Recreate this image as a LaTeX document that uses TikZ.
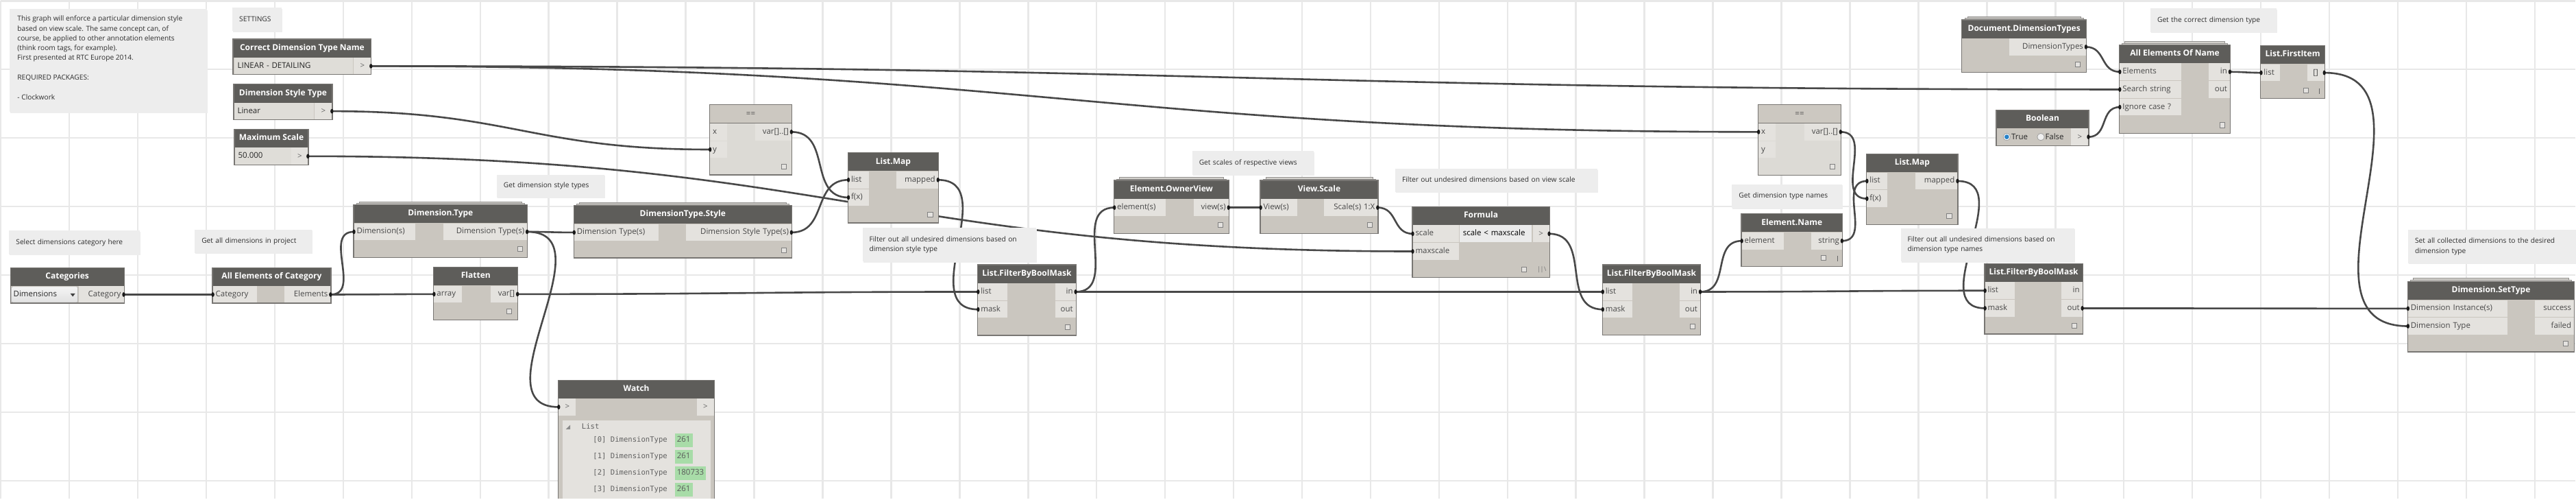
\documentclass[tikz,border=0pt]{standalone}
\usepackage{fontspec}
\setmainfont{Open Sans}
\newfontfamily\monof{DejaVu Sans Mono}
\usetikzlibrary{calc}
\pgfdeclarelayer{gridlay}
\pgfdeclarelayer{wirelay}
\pgfdeclarelayer{notelay}
\pgfdeclarelayer{dotlay}
\pgfsetlayers{gridlay,wirelay,notelay,main,dotlay}
\definecolor{gridc}{RGB}{232,232,232}
\definecolor{hdrc}{RGB}{94,93,90}
\definecolor{bodyc}{RGB}{202,198,191}
\definecolor{pinc}{RGB}{228,226,222}
\definecolor{bordc}{RGB}{120,118,115}
\definecolor{eqhdrc}{RGB}{204,200,193}
\definecolor{eqbodyc}{RGB}{220,218,213}
\definecolor{notec}{RGB}{237,237,237}
\definecolor{notetc}{RGB}{45,45,45}
\definecolor{wirec}{RGB}{72,72,72}
\definecolor{ptxt}{RGB}{72,72,72}
\definecolor{greenc}{RGB}{168,220,168}
\definecolor{fieldc}{RGB}{223,221,216}
\definecolor{stackc}{RGB}{212,210,205}
\definecolor{radioc}{RGB}{40,130,200}
\newcommand\hfont{\fontsize{12}{14}\selectfont\bfseries}
\newcommand\pfont{\fontsize{11.5}{14}\selectfont}
\newcommand\nfont{\fontsize{10.2}{14.3}\selectfont}
\newcommand\wfont{\monof\fontsize{10.6}{14}\selectfont}
\newcommand\DynNode[6]{%
  \node[dbody, minimum width={#3-#2}, minimum height={#5-#4}, anchor=north west] (#1) at (#2,#4) {};
  \node[dhdr, minimum width={#3-#2}, anchor=north west] (#1-t) at (#2,#4) {#6};}
\newcommand\EqNode[5]{%
  \node[dbody, fill=eqbodyc, minimum width={#3-#2}, minimum height={#5-#4}, anchor=north west] (#1) at (#2,#4) {};
  \node[dhdr, fill=eqhdrc, text=ptxt, font=\pfont, minimum width={#3-#2}, anchor=north west] (#1-t) at (#2,#4) {==};
  \draw[bordc, line width=1pt] (#1-t.south west) -- (#1-t.south east);}
\newcommand\PIn[5]{\node[pin, anchor=west, text width=#4pt, align=left] (#1) at (#2,#3) {#5};}
\newcommand\POut[5]{\node[pin, anchor=east, text width=#4pt, align=right] (#1) at (#2,#3) {#5};}
\newcommand\Stack[3]{%
  \filldraw[stk] ({#1+8},{#3-4.5}) rectangle ({#2-8},{#3});
  \filldraw[stk] ({#1+4},{#3-2.2}) rectangle ({#2-4},{#3});}
\newcommand\Sq[2]{\filldraw[sqs] ({#1-3.6},{#2-3.6}) rectangle ({#1+3.6},{#2+3.6});}
\newcommand\Lace[2]{\draw[black!60, line width=1pt] (#1,{#2-4}) -- (#1,{#2+4});}
\newcommand\Wire[2]{\draw[wire] let \p1=(#1), \p2=(#2), \n1={47*veclen((\x2-\x1)/100,(\y2-\y1)/100)} in (\p1) .. controls +(\n1,0) and +(-\n1,0) .. (\p2);}
\begin{document}
\begin{tikzpicture}[x=1pt,y=-1pt,
  gridl/.style={draw=gridc, line width=2.5pt},
  dbody/.style={fill=bodyc, inner sep=0pt, outer sep=0pt},
  dhdr/.style={fill=hdrc, text=white, font=\hfont, minimum height=26.7pt, inner sep=0pt, outer sep=0pt, text height=9pt, text depth=3pt},
  dborder/.style={draw=bordc, line width=1.2pt},
  pin/.style={fill=pinc, text=ptxt, font=\pfont, inner xsep=4pt, inner ysep=0pt, minimum height=24.7pt, outer sep=0pt, text height=8.6pt, text depth=2.6pt},
  pbtn/.style={fill=pinc, text=black!60, font=\pfont, inner sep=0pt, minimum width=25pt, minimum height=24.7pt, outer sep=0pt},
  field/.style={fill=fieldc, text=black!85, font=\pfont, inner xsep=5pt, inner ysep=0pt, minimum height=24.7pt, outer sep=0pt, anchor=west, align=left, text height=8.6pt, text depth=2.6pt},
  note/.style={fill=notec, text=notetc, font=\nfont, inner xsep=10pt, inner ysep=0pt, anchor=north west, align=left, text height=7.6pt, text depth=2.2pt, preaction={fill=black!7, transform canvas={shift={(1pt,-1.5pt)}}}},
  stk/.style={fill=stackc, draw=bordc!80, line width=0.7pt},
  sqs/.style={fill=bodyc!50!white, draw=black!50, line width=0.8pt},
  wire/.style={draw=wirec, line width=2.6pt},
  dotc/.style={fill=black!90},
  wtxt/.style={font=\wfont, text=black!62, inner sep=0pt, anchor=west},
  wval/.style={fill=greenc, font=\pfont, text=black!65, inner xsep=3pt, inner ysep=0pt, minimum height=20pt, anchor=west, text height=8.6pt, text depth=2.6pt}]
\begin{pgfonlayer}{gridlay}
\fill[white] (0,0) rectangle (3759,726);
\foreach \x in {0,100,...,3700} \draw[gridl] (\x,0) -- (\x,726);
\foreach \y in {0,100,...,700} \draw[gridl] (0,\y) -- (3759,\y);
\end{pgfonlayer}
\useasboundingbox (0,0) rectangle (3759,726);
\clip (0,0) rectangle (3759,726);

% ---------------- notes ----------------
\begin{pgfonlayer}{notelay}
\node[note, text width=268pt, minimum height=150pt, anchor=north west, text height=, text depth=] (n-intro) at (12.6,11.7) {};
\node[font=\nfont, text=notetc, align=left, anchor=north west, inner sep=0pt] (n-introtxt) at (24,21.5) {This graph will enforce a particular dimension style\\based on view scale. The same concept can, of\\course, be applied to other annotation elements\\(think room tags, for example).\\First presented at RTC Europe 2014.\\\mbox{}\\REQUIRED PACKAGES:\\\mbox{}\\- Clockwork};
\node[note, text width=52pt, minimum height=34pt] (n-set) at (338,10) {SETTINGS};
\node[note, text width=171pt, minimum height=34.3pt] (n-cat) at (12,335) {Select dimensions category here};
\node[note, text width=151pt, minimum height=34pt] (n-all) at (283,333.3) {Get all dimensions in project};
\node[note, text width=137pt, minimum height=33.4pt] (n-sty) at (724,253.3) {Get dimension style types};
\node[note, text width=234pt, minimum height=49pt, text height=, text depth=] (n-f1) at (1258,331) {Filter out all undesired dimensions based on\\dimension style type};
\node[note, text width=157pt, minimum height=34.3pt] (n-scl) at (1739.5,219) {Get scales of respective views};
\node[note, text width=275pt, minimum height=33.3pt] (n-f2) at (2036,245) {Filter out undesired dimensions based on view scale};
\node[note, text width=141pt, minimum height=34.7pt] (n-nm) at (2527.6,267.3) {Get dimension type names};
\node[note, text width=234pt, minimum height=48.7pt, text height=, text depth=] (n-f3) at (2774,331.3) {Filter out all undesired dimensions based on\\dimension type names};
\node[note, text width=164pt, minimum height=34.3pt] (n-cor) at (3138.7,11) {Get the correct dimension type};
\node[note, text width=230pt, minimum height=49.4pt, text height=, text depth=] (n-set2) at (3515,333.3) {Set all collected dimensions to the desired\\dimension type};
\end{pgfonlayer}

% ---------------- nodes ----------------
\DynNode{cdtn}{339}{541}{55.7}{107.3}{Correct Dimension Type Name}
\node[field, text width=163pt] (cdtn-f) at (340.6,95.2) {LINEAR - DETAILING};
\node[pbtn, anchor=east] (cdtn-o) at (540.4,95.2) {>};
\DynNode{dst}{340}{484}{121.7}{173.3}{Dimension Style Type}
\node[field, text width=106pt] (dst-f) at (340.6,161) {Linear};
\node[pbtn, anchor=east] (dst-o) at (483.4,161) {>};
\DynNode{ms}{341}{449}{187.3}{239.3}{Maximum Scale}
\node[field, text width=73pt] (ms-f) at (341.6,226.7) {50.000};
\node[pbtn, anchor=east, minimum width=24pt] (ms-o) at (448.4,226.7) {>};

\DynNode{cat}{14}{180}{389.3}{441}{Categories}
\node[draw=black!35, top color=white!96!black, bottom color=black!12, rounded corners=2pt, font=\pfont, text=black!85, inner xsep=3pt, inner ysep=0pt, minimum height=23pt, text width=91pt, align=left, anchor=west, text height=8.6pt, text depth=2.6pt] (cat-d) at (15.2,428.5) {Dimensions};
\fill[black!75] (101.5,427) -- (108.5,427) -- (105,431.5) -- cycle;
\POut{cat-o}{179.4}{428.5}{58}{Category}

\DynNode{aeoc}{309}{482}{389.3}{441}{All Elements of Category}
\PIn{aeoc-i}{309.6}{428.5}{56}{Category}
\POut{aeoc-o}{481.4}{428.5}{59}{Elements}

\Stack{515}{769}{297.3}
\DynNode{dt}{515}{769}{297.3}{374.3}{Dimension.Type}
\PIn{dt-i}{515.6}{336.9}{82}{Dimension(s)}
\POut{dt-o}{768.4}{336.9}{114}{Dimension Type(s)}
\Sq{758}{362}

\DynNode{fl}{632}{755}{388.3}{465.3}{Flatten}
\PIn{fl-i}{632.6}{427.9}{33}{array}
\POut{fl-o}{754.4}{427.9}{31}{var[]}
\Sq{742}{453}

\DynNode{wa}{814}{1042}{553.3}{760}{Watch}
\node[pbtn, anchor=west] (wa-i) at (814.6,592.6) {>};
\node[pbtn, anchor=east] (wa-o) at (1041.4,592.6) {>};
\fill[pinc] (820,611.7) rectangle (1036,760);
\fill[black!45] (825,625) -- (831.5,625) -- (831.5,618.5) -- cycle;
\node[wtxt] (wa-l) at (848,621) {List};
\node[wtxt] (wa-0) at (864.5,641) {[0] DimensionType};
\node[wtxt] (wa-1) at (864.5,665) {[1] DimensionType};
\node[wtxt] (wa-2) at (864.5,689) {[2] DimensionType};
\node[wtxt] (wa-3) at (864.5,713) {[3] DimensionType};
\node[wval] (wa-v0) at (984,641) {261};
\node[wval] (wa-v1) at (984,665) {261};
\node[wval] (wa-v2) at (984,689) {180733};
\node[wval] (wa-v3) at (984,713) {261};

\EqNode{eq1}{1035}{1155}{151.7}{254}
\PIn{eq1-x}{1035.6}{191.2}{17}{x}
\PIn{eq1-y}{1035.6}{216.9}{17}{y}
\POut{eq1-o}{1154.4}{191.2}{45}{var[]..[]}
\Sq{1143}{242}

\DynNode{lm1}{1237}{1369}{221.7}{324}{List.Map}
\PIn{lm1-l}{1237.6}{261.2}{22}{list}
\PIn{lm1-f}{1237.6}{286.9}{22}{f(x)}
\POut{lm1-o}{1368.4}{261.2}{53}{mapped}
\Sq{1357}{312}

\Stack{836.5}{1155}{298.3}
\DynNode{dts}{836.5}{1155}{298.3}{375}{DimensionType.Style}
\PIn{dts-i}{837.1}{337.9}{115}{Dimension Type(s)}
\POut{dts-o}{1154.4}{337.9}{146}{Dimension Style Type(s)}
\Sq{1143}{363.7}

\DynNode{f1}{1426.4}{1570}{385}{488}{List.FilterByBoolMask}
\PIn{f1-l}{1427}{424.5}{35}{list}
\PIn{f1-m}{1427}{450.2}{35}{mask}
\POut{f1-in}{1569.4}{424.5}{22}{in}
\POut{f1-out}{1569.4}{450.2}{22}{out}
\Sq{1558}{476}

\Stack{1625.4}{1793.3}{262}
\DynNode{ov}{1625.4}{1793.3}{262}{339.3}{Element.OwnerView}
\PIn{ov-i}{1626}{301.6}{67}{element(s)}
\POut{ov-o}{1792.7}{301.6}{43}{view(s)}
\Sq{1781}{327}

\Stack{1839}{2011}{262}
\DynNode{vs}{1839}{2011}{262}{339.3}{View.Scale}
\PIn{vs-i}{1839.6}{301.6}{45}{View(s)}
\POut{vs-o}{2010.4}{301.6}{70}{Scale(s) 1:X}
\Sq{1999}{327}

\DynNode{fo}{2061}{2261.4}{300.3}{403.3}{Formula}
\PIn{fo-s}{2061.6}{339.8}{60}{scale}
\PIn{fo-m}{2061.6}{365.5}{60}{maxscale}
\node[field, fill=white!92!black, text=black, text width=95pt] (fo-f) at (2130,339.8) {scale < maxscale};
\node[pbtn, anchor=east, minimum width=24pt] (fo-o) at (2260.8,339.8) {>};
\Sq{2224}{391.7}
\node[font=\fontsize{9}{9}\selectfont, text=black!55, inner sep=0pt] (fo-ic) at (2250,391.7) {|\kern-0.5pt|\kern0.5pt\textbackslash};

\DynNode{f2}{2338.5}{2482}{385}{487.3}{List.FilterByBoolMask}
\PIn{f2-l}{2339.1}{424.5}{35}{list}
\PIn{f2-m}{2339.1}{450.2}{35}{mask}
\POut{f2-in}{2481.4}{424.5}{22}{in}
\POut{f2-out}{2481.4}{450.2}{22}{out}
\Sq{2470}{475}

\EqNode{eq2}{2566}{2687}{151.7}{254.3}
\PIn{eq2-x}{2566.6}{191.2}{17}{x}
\PIn{eq2-y}{2566.6}{216.9}{17}{y}
\POut{eq2-o}{2686.4}{191.2}{45}{var[]..[]}
\Sq{2674}{242}

\DynNode{en}{2541.5}{2689}{310.7}{387.3}{Element.Name}
\PIn{en-i}{2542.1}{350.2}{53}{element}
\POut{en-o}{2688.4}{350.2}{37}{string}
\Sq{2661}{375}
\Lace{2682}{376}

\DynNode{lm2}{2724.3}{2857.7}{223.3}{326.7}{List.Map}
\PIn{lm2-l}{2724.9}{262.9}{22}{list}
\PIn{lm2-f}{2724.9}{288.6}{22}{f(x)}
\POut{lm2-o}{2857.1}{262.9}{54}{mapped}
\Sq{2845}{314}

\DynNode{f3}{2896.7}{3040}{383.3}{486}{List.FilterByBoolMask}
\PIn{f3-l}{2897.3}{422.8}{35}{list}
\PIn{f3-m}{2897.3}{448.5}{35}{mask}
\POut{f3-in}{3039.4}{422.8}{23}{in}
\POut{f3-out}{3039.4}{448.5}{23}{out}
\Sq{3028}{474}

\Stack{2863.5}{3045.3}{27.7}
\DynNode{ddt}{2863.5}{3045.3}{27.7}{104.3}{Document.DimensionTypes}
\POut{ddt-o}{3044.7}{67.2}{104}{DimensionTypes}
\Sq{3033}{92.7}

\Stack{3093.5}{3255.4}{64}
\DynNode{aeon}{3093.5}{3255.4}{64}{193}{All Elements Of Name}
\PIn{aeon-e}{3094.1}{103.6}{82}{Elements}
\PIn{aeon-s}{3094.1}{129.3}{82}{Search string}
\PIn{aeon-c}{3094.1}{155}{82}{Ignore case ?}
\POut{aeon-in}{3254.8}{103.6}{23}{in}
\POut{aeon-out}{3254.8}{129.3}{23}{out}
\Sq{3243.5}{181.3}

\DynNode{bool}{2913.7}{3048.8}{159.3}{211}{Boolean}
\filldraw[fill=white, draw=black!40, line width=0.7pt] (2929,198.5) circle (5.2);
\fill[radioc] (2929,198.5) circle (3.4);
\node[font=\pfont, text=black!85, inner sep=0pt, anchor=west] (bool-tr) at (2935.5,198.5) {True};
\filldraw[fill=black!6, draw=black!40, line width=0.7pt] (2978.7,198.5) circle (5.2);
\node[font=\pfont, text=black!85, inner sep=0pt, anchor=west] (bool-fa) at (2985,198.5) {False};
\node[pbtn, anchor=east] (bool-o) at (3048.2,198.5) {>};

\DynNode{fi}{3299.8}{3393.3}{65.3}{142.3}{List.FirstItem}
\PIn{fi-l}{3300.4}{104.9}{19.5}{list}
\node[pbtn, anchor=east, text=ptxt] (fi-o) at (3392.7,104.9) {[]};
\Sq{3366}{130.7}
\Lace{3385.5}{131.5}

\Stack{3514.3}{3758}{409.3}
\DynNode{st}{3514.3}{3758}{409.3}{512}{Dimension.SetType}
\PIn{st-i}{3514.9}{448.9}{137}{Dimension Instance(s)}
\PIn{st-t}{3514.9}{474.6}{137}{Dimension Type}
\POut{st-s}{3757.4}{448.9}{49}{success}
\POut{st-f}{3757.4}{474.6}{49}{failed}
\Sq{3745}{500.3}

\foreach \n in {cdtn,dst,ms,cat,aeoc,dt,fl,wa,eq1,lm1,dts,f1,ov,vs,fo,f2,eq2,en,lm2,f3,ddt,aeon,bool,fi,st}
  \draw[dborder] (\n.north west) rectangle (\n.south east);

% ---------------- wires ----------------
\begin{pgfonlayer}{wirelay}
\Wire{cat-o.east}{aeoc-i.west}
\Wire{aeoc-o.east}{dt-i.west}
\Wire{aeoc-o.east}{fl-i.west}
\Wire{dt-o.east}{dts-i.west}
\Wire{dt-o.east}{wa-i.west}
\Wire{dst-o.east}{eq1-y.west}
\Wire{dts-o.east}{lm1-l.west}
\Wire{eq1-o.east}{lm1-f.west}
\Wire{ms-o.east}{fo-m.west}
\Wire{cdtn-o.east}{eq2-x.west}
\Wire{cdtn-o.east}{aeon-s.west}
\Wire{f1-in.east}{ov-i.west}
\Wire{ov-o.east}{vs-i.west}
\Wire{vs-o.east}{fo-s.west}
\Wire{fo-o.east}{f2-m.west}
\Wire{f1-in.east}{f2-l.west}
\Wire{lm1-o.east}{f1-m.west}
\Wire{fl-o.east}{f1-l.west}
\Wire{f2-in.east}{en-i.west}
\Wire{f2-in.east}{f3-l.west}
\Wire{en-o.east}{lm2-l.west}
\Wire{eq2-o.east}{lm2-f.west}
\Wire{lm2-o.east}{f3-m.west}
\Wire{f3-out.east}{st-i.west}
\Wire{ddt-o.east}{aeon-e.west}
\Wire{bool-o.east}{aeon-c.west}
\Wire{aeon-in.east}{fi-l.west}
\Wire{fi-o.east}{st-t.west}
\end{pgfonlayer}

% ---------------- port dots ----------------
\begin{pgfonlayer}{dotlay}
\foreach \p in {cat-o.east, aeoc-i.west, aeoc-o.east, dt-i.west, fl-i.west, dt-o.east, dts-i.west, wa-i.west, dst-o.east, eq1-y.west, dts-o.east, lm1-l.west, eq1-o.east, lm1-f.west, ms-o.east, fo-m.west, cdtn-o.east, eq2-x.west, aeon-s.west, f1-in.east, ov-i.west, ov-o.east, vs-i.west, vs-o.east, fo-s.west, fo-o.east, f2-m.west, f2-l.west, lm1-o.east, f1-m.west, fl-o.east, f1-l.west, f2-in.east, en-i.west, f3-l.west, en-o.east, lm2-l.west, eq2-o.east, lm2-f.west, lm2-o.east, f3-m.west, f3-out.east, st-i.west, ddt-o.east, aeon-e.west, bool-o.east, aeon-c.west, aeon-in.east, fi-l.west, fi-o.east, st-t.west}
  \fill[dotc] (\p) ellipse (2.2 and 3.4);
\end{pgfonlayer}
\end{tikzpicture}
\end{document}
